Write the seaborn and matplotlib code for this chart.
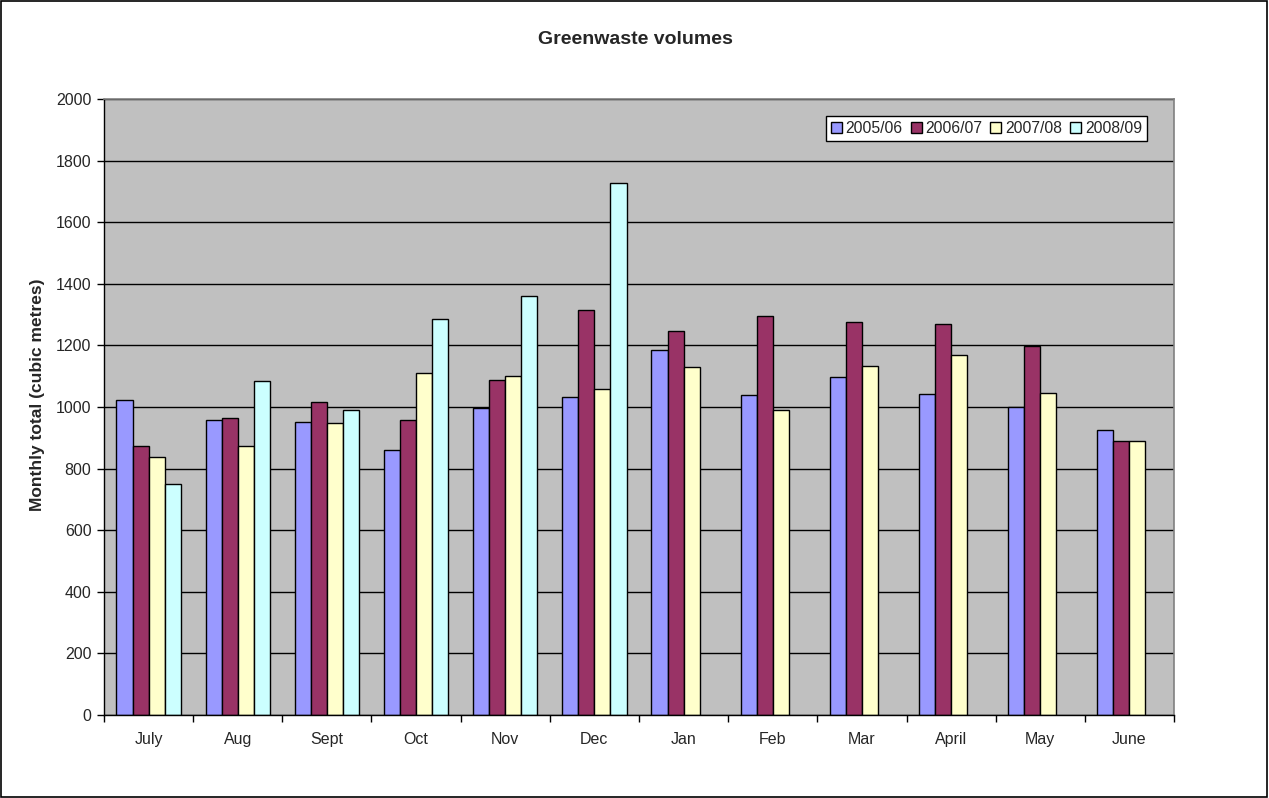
import matplotlib
matplotlib.use("Agg")
import matplotlib.pyplot as plt
import seaborn as sns
import pandas as pd
import numpy as np
from matplotlib.patches import Rectangle

months = ["July", "Aug", "Sept", "Oct", "Nov", "Dec", "Jan", "Feb", "Mar", "April", "May", "June"]
seasons = ["2005/06", "2006/07", "2007/08", "2008/09"]
v2005 = [1024, 958, 951, 859, 996, 1034, 1186, 1038, 1096, 1043, 1001, 925]
v2006 = [873, 964, 1016, 957, 1088, 1315, 1247, 1297, 1276, 1269, 1197, 889]
v2007 = [837, 874, 947, 1110, 1102, 1058, 1129, 991, 1134, 1169, 1046, 891]
v2008 = [749, 1084, 990, 1286, 1360, 1728, np.nan, np.nan, np.nan, np.nan, np.nan, np.nan]
colors = ["#9999FF", "#993366", "#FFFFCC", "#CCFFFF"]

rows = []
for s, vals in zip(seasons, [v2005, v2006, v2007, v2008]):
    for m, v in zip(months, vals):
        rows.append({"Month": m, "Season": s, "Volume": v})
df = pd.DataFrame(rows)

sns.set_style("white")
plt.rcParams["font.family"] = ["Liberation Sans", "DejaVu Sans"]

W, H = 1269, 798
L, R, T, B = 104, 1174, 99, 715
fig = plt.figure(figsize=(W/100, H/100), dpi=100)
ax = fig.add_axes([L/W, 1-B/H, (R-L)/W, (B-T)/H])
ax.set_facecolor("#C0C0C0")

sns.barplot(data=df, x="Month", y="Volume", hue="Season", order=months,
            hue_order=seasons, palette=colors, width=0.72, edgecolor="black",
            linewidth=1, saturation=1, ax=ax, zorder=3)

ax.set_ylim(0, 2000)
ax.set_xlim(-0.5, 11.5)
ax.set_yticks(np.arange(0, 2001, 200))
ax.yaxis.grid(True, color="black", linewidth=1, zorder=1)
ax.set_axisbelow(True)
ax.tick_params(axis="y", direction="out", length=5, width=1, color="black",
               labelsize=11.5, pad=4, left=True)
ax.tick_params(axis="x", which="major", length=0, labelsize=11.5, pad=12)
ax.set_xticks(np.arange(-0.5, 12, 1), minor=True)
ax.tick_params(axis="x", which="minor", direction="out", length=5, width=1, color="black", bottom=True)
for sp in ["top", "right"]:
    ax.spines[sp].set_color("#808080")
    ax.spines[sp].set_linewidth(1.2)
    ax.spines[sp].set_zorder(5)
for sp in ["left", "bottom"]:
    ax.spines[sp].set_color("black")
    ax.spines[sp].set_linewidth(1)
    ax.spines[sp].set_zorder(5)

ax.set_xlabel("")
ax.set_ylabel("")
fig.text(38/W, 1 - 395/H, "Monthly total (cubic metres)", rotation=90,
         ha="center", va="center", fontsize=12.5, fontweight="bold")
fig.text(0.5 * (L + R) / W - 0.003, 1 - 40/H, "Greenwaste volumes",
         ha="center", va="center", fontsize=14, fontweight="bold")

leg = ax.legend(loc="upper right", bbox_to_anchor=((1147-L)/(R-L), 1 - 17/(B-T)),
                ncol=4, frameon=True, fontsize=11.3, handlelength=0.7, handleheight=0.7,
                handletextpad=0.25, columnspacing=0.5, borderpad=0.32, fancybox=False,
                borderaxespad=0)
leg.get_frame().set_edgecolor("black")
leg.get_frame().set_facecolor("white")
leg.get_frame().set_linewidth(1)
leg.get_frame().set_alpha(1)

fig.patches.append(Rectangle((0.0005, 0.0008), 0.998, 0.998, transform=fig.transFigure,
                             fill=False, edgecolor="black", linewidth=1.2))

fig.savefig("out.png", dpi=100)
